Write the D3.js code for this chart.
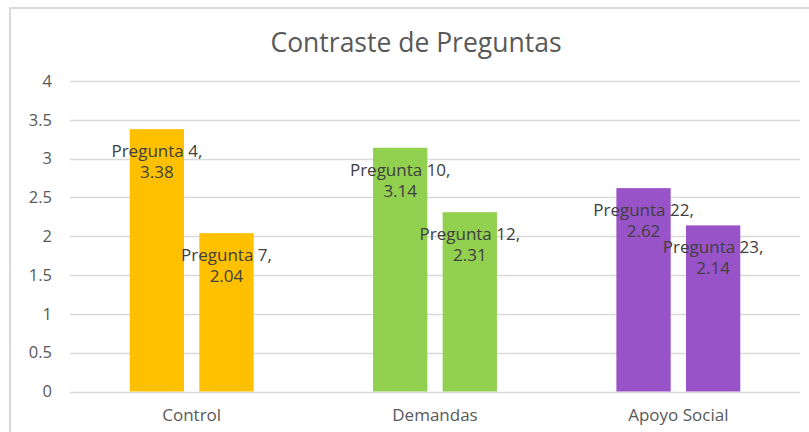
<!DOCTYPE html>
<html>
<head>
<meta charset="utf-8">
<script src="https://cdn.jsdelivr.net/npm/d3@7"></script>
<style>
  body { margin: 0; background: #fff; }
  svg { display: block; font-family: "Open Sans", sans-serif; }
</style>
</head>
<body>
<svg class="chart"></svg>
<script>
// data
var categories = ["Control", "Demandas", "Apoyo Social"];
var questions = [["Pregunta 4", "Pregunta 7"], ["Pregunta 10", "Pregunta 12"], ["Pregunta 22", "Pregunta 23"]];
var values = [[3.38, 2.04], [3.14, 2.31], [2.62, 2.14]];
var colors = ["#FFC000", "#92D050", "#9853C8"];
var yTicks = [0, 0.5, 1, 1.5, 2, 2.5, 3, 3.5, 4];

var W = 809, H = 432;
var margin = {top: 81, bottom: 40, left: 70, right: 9};

var svg = d3.select(".chart").attr("width", W).attr("height", H);

// chart frame (right and bottom edges fall outside the picture)
svg.append("rect")
    .attr("x", 10).attr("y", 8)
    .attr("width", W + 20).attr("height", H + 20)
    .attr("fill", "#fff")
    .attr("stroke", "#d9d9d9").attr("stroke-width", 2);

svg.append("text")
    .attr("x", 416).attr("y", 52)
    .attr("text-anchor", "middle")
    .attr("fill", "#595959")
    .style("font-size", "26.5px")
    .text("Contraste de Preguntas");

var x = d3.scaleBand().domain(categories)
    .range([margin.left, W - margin.right]).paddingInner(0).paddingOuter(0);
var y = d3.scaleLinear().domain([0, 4]).range([391.5, margin.top]);

// gridlines
svg.append("g").selectAll("line").data(yTicks).enter()
    .append("line")
    .attr("x1", margin.left).attr("x2", W - margin.right)
    .attr("y1", function(d) { return Math.round(y(d)) + 0.5; })
    .attr("y2", function(d) { return Math.round(y(d)) + 0.5; })
    .attr("stroke", "#d9d9d9").attr("stroke-width", 1.3);

// y labels
svg.append("g").selectAll("text").data(yTicks).enter()
    .append("text")
    .attr("x", 52).attr("y", function(d) { return y(d); })
    .attr("dy", "0.35em")
    .attr("text-anchor", "end")
    .attr("fill", "#595959")
    .style("font-size", "16.5px")
    .text(function(d) { return d; });

// x labels
svg.append("g").selectAll("text").data(categories).enter()
    .append("text")
    .attr("x", function(d) { return x(d) + x.bandwidth() / 2; })
    .attr("y", 415).attr("dy", "0.35em")
    .attr("text-anchor", "middle")
    .attr("fill", "#595959")
    .style("font-size", "17px")
    .text(function(d) { return d; });

// inner band for the two bars of each group
var barW = 54.3, gap = 15.3;
var inner = d3.scaleBand().domain([0, 1])
    .range([-(barW + gap / 2), barW + gap / 2]).paddingInner(gap / (barW + gap)).paddingOuter(0);

var rows = [];
categories.forEach(function(c, i) {
    values[i].forEach(function(v, j) {
        rows.push({cat: c, idx: j, value: v, name: questions[i][j], color: colors[i]});
    });
});

var bars = svg.append("g").selectAll("g").data(rows).enter().append("g");

bars.append("rect")
    .attr("x", function(d) { return x(d.cat) + x.bandwidth() / 2 + inner(d.idx); })
    .attr("y", function(d) { return y(d.value); })
    .attr("width", inner.bandwidth())
    .attr("height", function(d) { return y(0) - y(d.value); })
    .attr("fill", function(d) { return d.color; });

var labels = bars.append("text")
    .attr("text-anchor", "middle")
    .attr("fill", "#404040")
    .style("font-size", "17px");

labels.append("tspan")
    .attr("x", function(d) { return x(d.cat) + x.bandwidth() / 2 + inner(d.idx) + inner.bandwidth() / 2; })
    .attr("y", function(d) { return y(d.value) + 22; })
    .attr("dy", "0.35em")
    .text(function(d) { return d.name + ","; });

labels.append("tspan")
    .attr("x", function(d) { return x(d.cat) + x.bandwidth() / 2 + inner(d.idx) + inner.bandwidth() / 2; })
    .attr("y", function(d) { return y(d.value) + 43; })
    .attr("dy", "0.35em")
    .text(function(d) { return d.value.toFixed(2); });
</script>
</body>
</html>
